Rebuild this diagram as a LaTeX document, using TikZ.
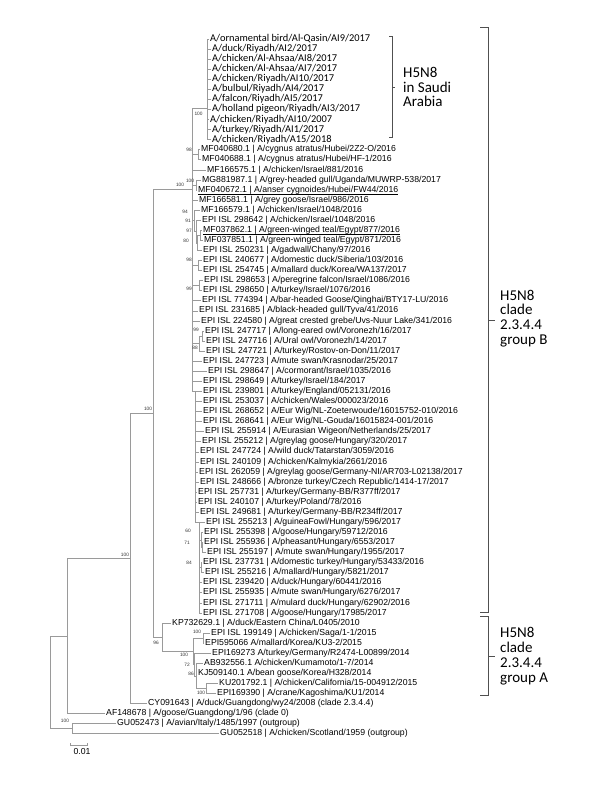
\documentclass[tikz,border=0pt]{standalone}
\usepackage{fontspec}
\setmainfont{Liberation Sans}
\newfontfamily\calibrifont{Carlito}
\usetikzlibrary{arrows.meta}

\definecolor{treegray}{HTML}{9A9A9A}
\definecolor{bracegray}{HTML}{505050}
\tikzstyle{branch}=[draw=treegray, line width=0.75pt]
\tikzstyle{leaf}=[anchor=west, inner xsep=1pt, inner ysep=0pt, text height=6pt, text depth=1.8pt, font=\fontsize{8.7}{9}\selectfont]
\tikzstyle{saudileaf}=[leaf, text height=7pt, text depth=2pt, font=\calibrifont\fontsize{10.4}{11}\selectfont]
\tikzstyle{boot}=[inner sep=0pt, font=\fontsize{4.8}{5}\selectfont, text=black!80]
\tikzstyle{brace}=[draw=bracegray, line width=0.9pt]
\tikzstyle{uline}=[draw=black, line width=0.5pt]
\tikzstyle{grouplabel}=[anchor=west, align=left, inner sep=0pt, font=\calibrifont\fontsize{15}{14.8}\selectfont]

\begin{document}
\begin{tikzpicture}[x=1pt, y=-10.07pt]

\useasboundingbox (0, -2.873) rectangle (600, 76.57);

\node [saudileaf] (l1) at (209, 1) {A/ornamental bird/Al-Qasin/AI9/2017};
\node [saudileaf] (l2) at (211, 2) {A/duck/Riyadh/AI2/2017};
\node [saudileaf] (l3) at (211, 3) {A/chicken/Al-Ahsaa/AI8/2017};
\node [saudileaf] (l4) at (211, 4) {A/chicken/Al-Ahsaa/AI7/2017};
\node [saudileaf] (l5) at (211, 5) {A/chicken/Riyadh/AI10/2017};
\node [saudileaf] (l6) at (211, 6) {A/bulbul/Riyadh/AI4/2017};
\node [saudileaf] (l7) at (211, 7) {A/falcon/Riyadh/AI5/2017};
\node [saudileaf] (l8) at (211, 8) {A/holland pigeon/Riyadh/AI3/2017};
\node [saudileaf] (l9) at (209, 9) {A/chicken/Riyadh/AI10/2007};
\node [saudileaf] (l10) at (211, 10) {A/turkey/Riyadh/AI1/2017};
\node [saudileaf] (l11) at (211, 11) {A/chicken/Riyadh/A15/2018};

\node [leaf] (l12) at (200, 12) {MF040680.1 | A/cygnus atratus/Hubei/2Z2-O/2016};
\node [leaf] (l13) at (201, 13) {MF040688.1 | A/cygnus atratus/Hubei/HF-1/2016};
\node [leaf] (l14) at (206, 14) {MF166575.1 | A/chicken/Israel/881/2016};
\node [leaf] (l15) at (201, 15) {MG881987.1 | A/grey-headed gull/Uganda/MUWRP-538/2017};
\node [leaf] (l16) at (197, 16) {MF040672.1 | A/anser cygnoides/Hubei/FW44/2016};
\node [leaf] (l17) at (198, 17) {MF166581.1 | A/grey goose/Israel/986/2016};
\node [leaf] (l18) at (200, 18) {MF166579.1 | A/chicken/Israel/1048/2016};
\node [leaf] (l19) at (201, 19) {EPI ISL 298642 | A/chicken/Israel/1048/2016};
\node [leaf] (l20) at (202, 20) {MF037862.1 | A/green-winged teal/Egypt/877/2016};
\node [leaf] (l21) at (203, 21) {MF037851.1 | A/green-winged teal/Egypt/871/2016};
\node [leaf] (l22) at (202, 22) {EPI ISL 250231 | A/gadwall/Chany/97/2016};
\node [leaf] (l23) at (202, 23) {EPI ISL 240677 | A/domestic duck/Siberia/103/2016};
\node [leaf] (l24) at (202, 24) {EPI ISL 254745 | A/mallard duck/Korea/WA137/2017};
\node [leaf] (l25) at (203, 25) {EPI ISL 298653 | A/peregrine falcon/Israel/1086/2016};
\node [leaf] (l26) at (202, 26) {EPI ISL 298650 | A/turkey/Israel/1076/2016};
\node [leaf] (l27) at (201, 27) {EPI ISL 774394 | A/bar-headed Goose/Qinghai/BTY17-LU/2016};
\node [leaf] (l28) at (198, 28) {EPI ISL 231685 | A/black-headed gull/Tyva/41/2016};
\node [leaf] (l29) at (200, 29) {EPI ISL 224580 | A/great crested grebe/Uvs-Nuur Lake/341/2016};
\node [leaf] (l30) at (204, 30) {EPI ISL 247717 | A/long-eared owl/Voronezh/16/2017};
\node [leaf] (l31) at (205, 31) {EPI ISL 247716 | A/Ural owl/Voronezh/14/2017};
\node [leaf] (l32) at (205, 32) {EPI ISL 247721 | A/turkey/Rostov-on-Don/11/2017};
\node [leaf] (l33) at (202, 33) {EPI ISL 247723 | A/mute swan/Krasnodar/25/2017};
\node [leaf] (l34) at (207, 34) {EPI ISL 298647 | A/cormorant/Israel/1035/2016};
\node [leaf] (l35) at (202, 35) {EPI ISL 298649 | A/turkey/Israel/184/2017};
\node [leaf] (l36) at (202, 36) {EPI ISL 239801 | A/turkey/England/052131/2016};
\node [leaf] (l37) at (202, 37) {EPI ISL 253037 | A/chicken/Wales/000023/2016};
\node [leaf] (l38) at (202, 38) {EPI ISL 268652 | A/Eur Wig/NL-Zoeterwoude/16015752-010/2016};
\node [leaf] (l39) at (202, 39) {EPI ISL 268641 | A/Eur Wig/NL-Gouda/16015824-001/2016};
\node [leaf] (l40) at (204, 40) {EPI ISL 255914 | A/Eurasian Wigeon/Netherlands/25/2017};
\node [leaf] (l41) at (201, 41) {EPI ISL 255212 | A/greylag goose/Hungary/320/2017};
\node [leaf] (l42) at (199, 42) {EPI ISL 247724 | A/wild duck/Tatarstan/3059/2016};
\node [leaf] (l43) at (199, 43) {EPI ISL 240109 | A/chicken/Kalmykia/2661/2016};
\node [leaf] (l44) at (198, 44) {EPI ISL 262059 | A/greylag goose/Germany-NI/AR703-L02138/2017};
\node [leaf] (l45) at (199, 45) {EPI ISL 248666 | A/bronze turkey/Czech Republic/1414-17/2017};
\node [leaf] (l46) at (197, 46) {EPI ISL 257731 | A/turkey/Germany-BB/R377ff/2017};
\node [leaf] (l47) at (197, 47) {EPI ISL 240107 | A/turkey/Poland/78/2016};
\node [leaf] (l48) at (199, 48) {EPI ISL 249681 | A/turkey/Germany-BB/R234ff/2017};
\node [leaf] (l49) at (205, 49) {EPI ISL 255213 | A/guineaFowl/Hungary/596/2017};
\node [leaf] (l50) at (203, 50) {EPI ISL 255398 | A/goose/Hungary/59712/2016};
\node [leaf] (l51) at (203, 51) {EPI ISL 255936 | A/pheasant/Hungary/6553/2017};
\node [leaf] (l52) at (206, 52) {EPI ISL 255197 | A/mute swan/Hungary/1955/2017};
\node [leaf] (l53) at (202, 53) {EPI ISL 237731 | A/domestic turkey/Hungary/53433/2016};
\node [leaf] (l54) at (204, 54) {EPI ISL 255216 | A/mallard/Hungary/5821/2017};
\node [leaf] (l55) at (202, 55) {EPI ISL 239420 | A/duck/Hungary/60441/2016};
\node [leaf] (l56) at (202, 56) {EPI ISL 255935 | A/mute swan/Hungary/6276/2017};
\node [leaf] (l57) at (202, 57) {EPI ISL 271711 | A/mulard duck/Hungary/62902/2016};
\node [leaf] (l58) at (202, 58) {EPI ISL 271708 | A/goose/Hungary/17985/2017};
\node [leaf] (l59) at (171, 59) {KP732629.1 | A/duck/Eastern China/L0405/2010};
\node [leaf] (l60) at (210, 60) {EPI ISL 199149 | A/chicken/Saga/1-1/2015};
\node [leaf] (l61) at (204, 61) {EPI595066 A/mallard/Korea/KU3-2/2015};
\node [leaf] (l62) at (211, 62) {EPI169273 A/turkey/Germany/R2474-L00899/2014};
\node [leaf] (l63) at (203, 63) {AB932556.1 A/chicken/Kumamoto/1-7/2014};
\node [leaf] (l64) at (197, 64) {KJ509140.1 A/bean goose/Korea/H328/2014};
\node [leaf] (l65) at (218, 65) {KU201792.1 | A/chicken/California/15-004912/2015};
\node [leaf] (l66) at (216, 66) {EPI169390 | A/crane/Kagoshima/KU1/2014};
\node [leaf] (l67) at (147, 67) {CY091643 | A/duck/Guangdong/wy24/2008 (clade 2.3.4.4)};
\node [leaf] (l68) at (105, 68) {AF148678 | A/goose/Guangdong/1/96 (clade 0)};
\node [leaf] (l69) at (116, 69) {GU052473 | A/avian/Italy/1485/1997 (outgroup)};
\node [leaf] (l70) at (219, 70) {GU052518 | A/chicken/Scotland/1959 (outgroup)};

\draw [uline] ([xshift=1pt, yshift=0.4pt]l16.south west) -- ([xshift=-1pt, yshift=0.4pt]l16.south east);
\draw [uline] ([xshift=1pt, yshift=0.4pt]l20.south west) -- ([xshift=-1pt, yshift=0.4pt]l20.south east);

\coordinate (root) at (50, 64.9);
\coordinate (nO) at (72, 69.5);
\coordinate (nA) at (67, 60.3);
\coordinate (nB) at (130, 52.57);
\coordinate (nC) at (153, 38.14);
\coordinate (nD) at (192, 15.9);
\coordinate (nS) at (207, 7.85);
\coordinate (n1213) at (198, 12.5);
\coordinate (n1516) at (196, 15.5);
\coordinate (n94) at (194.5, 19.06);
\coordinate (n91) at (196, 20.12);
\coordinate (n80) at (197.5, 21.25);
\coordinate (n97) at (200, 20.5);
\coordinate (n2324) at (198, 23.5);
\coordinate (n2526) at (199, 25.5);
\coordinate (n88) at (199, 31.25);
\coordinate (n3031) at (202, 30.5);
\coordinate (nL1) at (195, 36);
\coordinate (nL2) at (199, 49);
\coordinate (n60) at (201, 50.75);
\coordinate (n71) at (202, 51.5);
\coordinate (n84) at (201, 53.5);
\coordinate (nE) at (162, 60.4);
\coordinate (nF) at (193, 61.8);
\coordinate (nG) at (203, 60.5);
\coordinate (nH) at (194.5, 63.1);
\coordinate (nH2) at (196, 64.25);
\coordinate (nI) at (206, 65.5);

\draw [branch] (root) |- (nA) (root) |- (nO);
\draw [branch] (nO) |- (l69.west) (nO) |- (l70.west);
\draw [branch] (nA) |- (nB) (nA) |- (l68.west);
\draw [branch] (nB) |- (nC) (nB) |- (l67.west);
\draw [branch] (nC) |- (nD) (nC) |- (nE);

\draw [branch] (nD) |- (nS) (nD) |- (n1213) (nD) |- (l14.west)
        (nD) |- (n1516) (nD) |- (l17.west) (nD) |- (n94)
        (nD) |- (n2324) (nD) |- (n2526) (nD) |- (l27.west)
        (nD) |- (l28.west) (nD) |- (l29.west) (nD) |- (n88)
        (nD) |- (l33.west) (nD) |- (l34.west) (nD) |- (l35.west)
        (nD) |- (nL1);
\draw [branch] (nS) |- (l1.west) (nS) |- (l2.west) (nS) |- (l3.west)
        (nS) |- (l4.west) (nS) |- (l5.west) (nS) |- (l6.west)
        (nS) |- (l7.west) (nS) |- (l8.west) (nS) |- (l9.west)
        (nS) |- (l10.west) (nS) |- (l11.west);
\draw [branch] (n1213) |- (l12.west) (n1213) |- (l13.west);
\draw [branch] (n1516) |- (l15.west) (n1516) |- (l16.west);
\draw [branch] (n94) |- (l18.west) (n94) |- (n91);
\draw [branch] (n91) |- (l19.west) (n91) |- (n80);
\draw [branch] (n80) |- (n97) (n80) |- (l22.west);
\draw [branch] (n97) |- (l20.west) (n97) |- (l21.west);
\draw [branch] (n2324) |- (l23.west) (n2324) |- (l24.west);
\draw [branch] (n2526) |- (l25.west) (n2526) |- (l26.west);
\draw [branch] (n88) |- (n3031) (n88) |- (l32.west);
\draw [branch] (n3031) |- (l30.west) (n3031) |- (l31.west);
\draw [branch] (nL1) |- (l36.west) (nL1) |- (l37.west) (nL1) |- (l38.west)
        (nL1) |- (l39.west) (nL1) |- (l40.west) (nL1) |- (l41.west)
        (nL1) |- (l42.west) (nL1) |- (l43.west) (nL1) |- (l44.west)
        (nL1) |- (l45.west) (nL1) |- (l46.west) (nL1) |- (l47.west)
        (nL1) |- (l48.west) (nL1) |- (nL2);
\draw [branch] (nL2) |- (l49.west) (nL2) |- (n60) (nL2) |- (n84)
        (nL2) |- (l55.west) (nL2) |- (l56.west) (nL2) |- (l57.west)
        (nL2) |- (l58.west);
\draw [branch] (n60) |- (l50.west) (n60) |- (n71);
\draw [branch] (n71) |- (l51.west) (n71) |- (l52.west);
\draw [branch] (n84) |- (l53.west) (n84) |- (l54.west);

\draw [branch] (nE) |- (l59.west) (nE) |- (nF);
\draw [branch] (nF) |- (nG) (nF) |- (nH);
\draw [branch] (nG) |- (l60.west) (nG) |- (l61.west);
\draw [branch] (nH) |- (l62.west) (nH) |- (nH2);
\draw [branch] (nH2) |- (l63.west) (nH2) |- (l64.west) (nH2) |- (nI);
\draw [branch] (nI) |- (l65.west) (nI) |- (l66.west);

\node [boot] (bS) at (198.5, 8.45) {100};
\node [boot] (b1213) at (189, 12.02) {98};
\node [boot] (b1516) at (190, 15.1) {100};
\node [boot] (bD) at (180, 15.5) {100};
\node [boot] (b94) at (185, 18.18) {94};
\node [boot] (b91) at (188, 19.07) {91};
\node [boot] (b97) at (189, 20.07) {97};
\node [boot] (b80) at (186, 21.06) {80};
\node [boot] (b2324) at (189, 22.95) {98};
\node [boot] (b2526) at (189, 25.83) {99};
\node [boot] (b3031) at (196, 29.9) {99};
\node [boot] (b88) at (195, 31.7) {88};
\node [boot] (bC) at (148, 37.74) {100};
\node [boot] (bB) at (125, 52.2) {100};
\node [boot] (b60) at (188, 49.86) {60};
\node [boot] (b71) at (187, 51.05) {71};
\node [boot] (b84) at (189, 53.0) {84};
\node [boot] (bE) at (156, 60.95) {96};
\node [boot] (bG) at (197, 59.89) {100};
\node [boot] (bF) at (184, 62.15) {100};
\node [boot] (bH) at (187, 63.1) {72};
\node [boot] (bH2) at (191, 64.0) {86};
\node [boot] (bI) at (201, 65.9) {100};
\node [boot] (bO) at (65, 68.7) {100};

\coordinate (sbL) at (70, 71.1);
\coordinate (sbR) at (88, 71.1);
\draw [branch, {Bar[width=3pt]}-{Bar[width=3pt]}] (sbL) -- (sbR);
\node [anchor=north, inner sep=0pt, font=\fontsize{8.7}{9}\selectfont] (sbtext) at (82, 71.4) {0.01};

\draw [brace] (389, 0.705) -- (392, 0.705) -- (392, 10.73) -- (389, 10.73);
\draw [brace] (392, 5.77) -- (395, 5.77);
\node [grouplabel] (saudi) at (403, 5.77) {H5N8\\in Saudi\\Arabia};

\draw [brace] (480, -0.19) -- (488, -0.19) -- (488, 57.9) -- (480, 57.9);
\draw [brace] (488, 28.9) -- (495, 28.9);
\node [grouplabel] (cladeB) at (500, 28.75) {H5N8\\clade\\2.3.4.4\\group B};

\draw [brace] (480, 58.3) -- (488, 58.3) -- (488, 66.14) -- (480, 66.14);
\draw [brace] (488, 62.27) -- (495, 62.27);
\node [grouplabel] (cladeA) at (500, 62.27) {H5N8\\clade\\2.3.4.4\\group A};

\end{tikzpicture}
\end{document}
